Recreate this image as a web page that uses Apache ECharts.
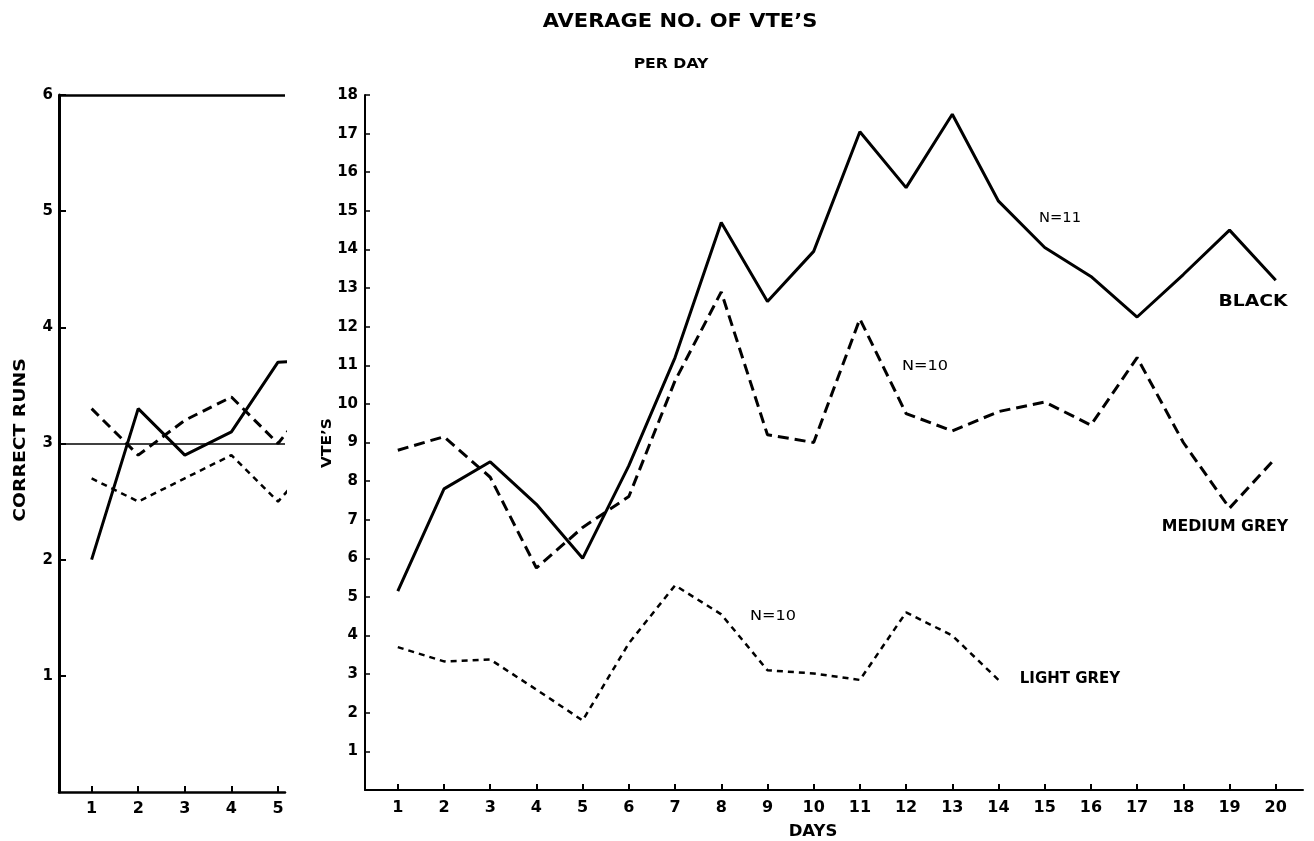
<!DOCTYPE html>
<html><head><meta charset="utf-8">
<script src="https://cdn.jsdelivr.net/npm/echarts@6/dist/echarts.min.js"></script>
<style>html,body{margin:0;padding:0;background:#fff}#c{width:1314px;height:841px}</style>
</head><body><div id="c"></div>
<script>
// ---- Left panel: CORRECT RUNS ----
const leftTrials = [1, 2, 3, 4, 5, 6];
const leftSolid  = [2.0, 3.3, 2.9, 3.1, 3.7, 3.72];
const leftDashed = [3.3, 2.9, 3.2, 3.4, 3.0, 3.5];
const leftDotted = [2.7, 2.5, 2.7, 2.9, 2.5, 2.95];
const leftRefLines = [3, 6];
const leftXTicks = [1, 2, 3, 4, 5];
const leftYTicks = [1, 2, 3, 4, 5, 6];

// ---- Right panel: AVERAGE NO. OF VTE'S PER DAY ----
const days = [1, 2, 3, 4, 5, 6, 7, 8, 9, 10, 11, 12, 13, 14, 15, 16, 17, 18, 19, 20];
const blackVTE  = [5.15, 7.8, 8.5, 7.4, 6.0, 8.4, 11.2, 14.7, 12.65, 13.95, 17.05, 15.6, 17.5, 15.25, 14.05, 13.3, 12.25, 13.35, 14.5, 13.2];
const mediumVTE = [8.8, 9.15, 8.1, 5.75, 6.8, 7.6, 10.6, 12.9, 9.2, 9.0, 12.2, 9.75, 9.3, 9.8, 10.05, 9.45, 11.2, 9.0, 7.3, 8.6];
const lightVTE  = [3.7, 3.33, 3.38, 2.6, 1.8, 3.8, 5.3, 4.55, 3.1, 3.02, 2.85, 4.6, 4.0, 2.85];
const rightYTicks = [1, 2, 3, 4, 5, 6, 7, 8, 9, 10, 11, 12, 13, 14, 15, 16, 17, 18];

const FONT = 'DejaVu Sans';
const pair = (xs, ys) => ys.map((v, i) => [xs[i], v]);

function txt(text, x, y, size, opts) {
  opts = opts || {};
  return {
    type: 'text', x: x, y: y, rotation: opts.rot || 0,
    scaleX: opts.sx || 1, scaleY: 1, silent: true, z: 100,
    style: { text: text, fill: '#000', font: (opts.w || 'bold') + ' ' + size + 'px "' + FONT + '"',
             align: 'center', verticalAlign: 'middle' }
  };
}

const axisBase = (w) => ({
  axisLine: { show: true, onZero: false, lineStyle: { color: '#000', width: w } },
  splitLine: { show: false }
});

const chart = echarts.init(document.getElementById('c'), null, { renderer: 'canvas' });
chart.setOption({
  backgroundColor: '#fff',
  animation: false,
  grid: [
    { left: 59, top: 95, width: 226, height: 697 },
    { left: 365, top: 95, width: 938, height: 695 }
  ],
  xAxis: [
    Object.assign(axisBase(2.5), {
      type: 'value', gridIndex: 0, min: 0.3, max: 5.15,
      axisTick: { show: true, inside: true, length: 6, customValues: leftXTicks, lineStyle: { color: '#000', width: 2 } },
      axisLabel: { customValues: leftXTicks, color: '#000', fontFamily: FONT, fontWeight: 'bold', fontSize: 16, margin: 9 }
    }),
    Object.assign(axisBase(2), {
      type: 'value', gridIndex: 1, min: 0.29, max: 20.59,
      axisTick: { show: true, inside: true, length: 6, customValues: days, lineStyle: { color: '#000', width: 2 } },
      axisLabel: { customValues: days, color: '#000', fontFamily: FONT, fontWeight: 'bold', fontSize: 16, margin: 10 }
    })
  ],
  yAxis: [
    Object.assign(axisBase(3), {
      type: 'value', gridIndex: 0, min: 0, max: 6,
      axisTick: { show: true, inside: true, length: 7, customValues: leftYTicks, lineStyle: { color: '#000', width: 2 } },
      axisLabel: { customValues: leftYTicks, color: '#000', fontFamily: FONT, fontWeight: 'bold', fontSize: 15, margin: 6 }
    }),
    Object.assign(axisBase(2), {
      type: 'value', gridIndex: 1, min: 0, max: 18,
      axisTick: { show: true, inside: true, length: 5, customValues: rightYTicks, lineStyle: { color: '#000', width: 1.5 } },
      axisLabel: { customValues: rightYTicks, color: '#000', fontFamily: FONT, fontWeight: 'bold', fontSize: 15, margin: 7 }
    })
  ],
  series: [
    { type: 'line', xAxisIndex: 0, yAxisIndex: 0, data: pair(leftTrials, leftSolid), symbol: 'none', clip: true,
      lineStyle: { color: '#000', width: 3, type: 'solid' },
      markLine: { silent: true, symbol: ['none', 'none'], label: { show: false },
        data: leftRefLines.map((v, i) => ({ yAxis: v, lineStyle: { color: '#000', type: 'solid', width: i === 1 ? 2.5 : 1.5 } })) } },
    { type: 'line', xAxisIndex: 0, yAxisIndex: 0, data: pair(leftTrials, leftDashed), symbol: 'none', clip: true,
      lineStyle: { color: '#000', width: 3, type: [10, 6] } },
    { type: 'line', xAxisIndex: 0, yAxisIndex: 0, data: pair(leftTrials, leftDotted), symbol: 'none', clip: true,
      lineStyle: { color: '#000', width: 2.5, type: [6, 5] } },
    { type: 'line', xAxisIndex: 1, yAxisIndex: 1, data: pair(days, blackVTE), symbol: 'none',
      lineStyle: { color: '#000', width: 3, type: 'solid' } },
    { type: 'line', xAxisIndex: 1, yAxisIndex: 1, data: pair(days, mediumVTE), symbol: 'none',
      lineStyle: { color: '#000', width: 3, type: [11, 6] } },
    { type: 'line', xAxisIndex: 1, yAxisIndex: 1, data: pair(days, lightVTE), symbol: 'none',
      lineStyle: { color: '#000', width: 2.5, type: [6, 5] } }
  ],
  graphic: [
    txt('AVERAGE NO. OF VTE\u2019S', 680, 22, 20, { sx: 1.05 }),
    txt('PER DAY', 671, 64, 14, { sx: 1.12 }),
    txt('N=11', 1060, 218, 14, { sx: 1.05, w: 'normal' }),
    txt('BLACK', 1253, 302, 15, { sx: 1.25, w: 'bold' }),
    txt('N=10', 925, 366, 14, { sx: 1.15, w: 'normal' }),
    txt('MEDIUM GREY', 1225, 527, 15, { sx: 1.05, w: 'bold' }),
    txt('N=10', 773, 616, 14, { sx: 1.15, w: 'normal' }),
    txt('LIGHT GREY', 1070, 679, 15, { sx: 1.0, w: 'bold' }),
    txt('DAYS', 813, 832, 15, { sx: 1.1 }),
    txt('VTE\u2019S', 327, 443, 14, { rot: Math.PI / 2, sx: 1.1 }),
    txt('CORRECT RUNS', 21, 440, 15, { rot: Math.PI / 2, sx: 1.25 })
  ]
});
</script></body></html>
